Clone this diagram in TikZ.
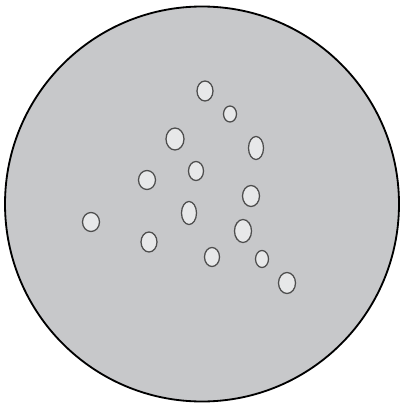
\documentclass[tikz,border=0pt]{standalone}
\usepackage{tikz}
\definecolor{cDish}{RGB}{199,200,202}
\definecolor{cSpot}{RGB}{231,232,233}
\definecolor{cSpotLine}{RGB}{77,77,77}
\tikzset{
	dish/.style ={draw=black, fill=cDish, line width=1.3pt},
	spot/.style ={draw=cSpotLine, fill=cSpot, line width=0.9pt},
}
\begin{document}
\begin{tikzpicture}[x=0.25mm, y=-0.25mm]
	\useasboundingbox (0,0) rectangle (400,405);
	% plate
	\draw[dish] (202,204) ellipse [x radius=197*0.25mm, y radius=197.5*0.25mm];
	% colonies: x, y, rx, ry
	\foreach \cx/\cy/\rx/\ry in {205/91/8/10, 230/114/6.5/8, 175/139/9/11, 256/148/7.5/11.5,
		147/180/8.5/9.5, 196/171/7.5/9.5, 251/196/8.5/10.5, 91/222/8.5/9.5,
		189/213/7.5/11.5, 243/231/8.5/11.5, 149/242/8/10, 212/257/7.5/9.5,
		262/259/6.5/8.5, 287/283/8.5/10.5}
		\draw[spot] (\cx,\cy) ellipse [x radius=\rx*0.25mm, y radius=\ry*0.25mm];
\end{tikzpicture}
\end{document}
